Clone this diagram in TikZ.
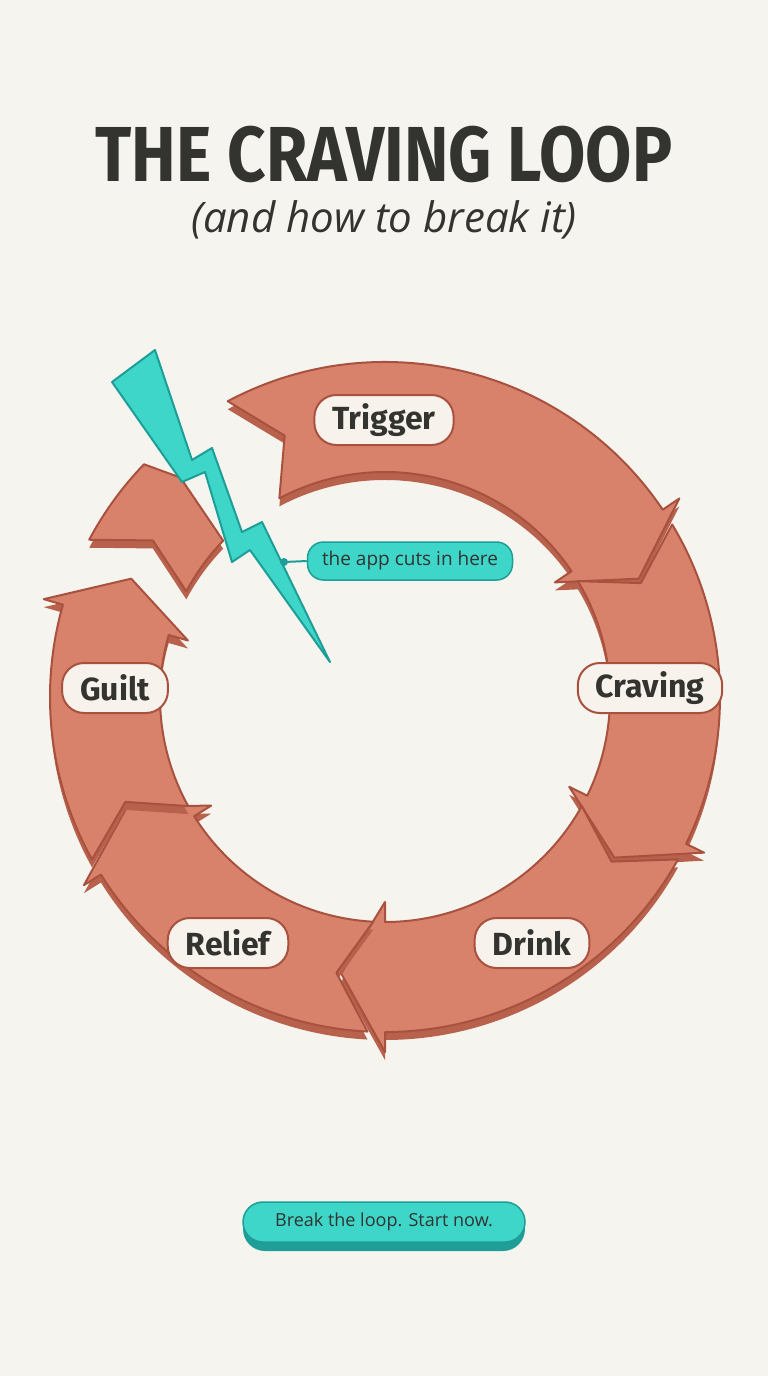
\documentclass[tikz,border=0pt]{standalone}
\usepackage{fontspec}
\setmainfont{Fira Sans}
\newfontfamily\lab{Fira Sans}
\newfontfamily\body{Open Sans}
\definecolor{bg}{HTML}{F6F4EF}
\definecolor{af}{HTML}{D9826B}
\definecolor{ad}{HTML}{A8513E}
\definecolor{ash}{HTML}{B8624D}
\definecolor{tl}{HTML}{3DD6C9}
\definecolor{td}{HTML}{1E9E96}
\definecolor{ink}{HTML}{333330}
\definecolor{pill}{HTML}{F7F2EC}
\newcommand\looparr[2]{%
  \path[fill=ash,shift={(0,8)}] (#1:335) arc[start angle=#1,end angle=#2,radius=335] -- (#2:355) -- (#2+9:280) -- (#2:205) -- (#2:225) arc[start angle=#2,end angle=#1,radius=225] -- (#1+7:280) -- cycle;
  \path[arr] (#1:335) arc[start angle=#1,end angle=#2,radius=335] -- (#2:355) -- (#2+9:280) -- (#2:205) -- (#2:225) arc[start angle=#2,end angle=#1,radius=225] -- (#1+7:280) -- cycle;}
\tikzset{arr/.style={fill=af,draw=ad,line width=2pt,line join=round},
 lbl/.style={fill=pill,draw=ad,line width=2pt,rounded corners=22pt,minimum height=50pt,inner xsep=18pt,font=\lab\bfseries\fontsize{32}{34}\selectfont,text=ink},
 tpill/.style={fill=tl,draw=td,line width=1.5pt,rounded corners=16pt,text=ink}}
\begin{document}
\begin{tikzpicture}[x=1pt,y=-1pt]
\fill[bg] (0,0) rectangle (768,1376);
\useasboundingbox (0,0) rectangle (768,1376);
\node[text=ink] (title) at (384,154) {\scalebox{0.86}[1]{\fontsize{78}{78}\selectfont\bfseries THE CRAVING LOOP}};
\node[text=ink] (sub) at (384,220) {\fontsize{42}{44}\selectfont\body\itshape (and how to break it)};
\begin{scope}[shift={(385,697)}]
\looparr{-118}{-34}
\looparr{-31}{26}
\looparr{29}{90}
\looparr{93}{148}
\looparr{151}{196}
\path[fill=ash,shift={(0,8)}] (208:335) arc[start angle=208,end angle=224,radius=335] -- (227:300) -- (224:225) arc[start angle=224,end angle=208,radius=225] -- (214:280) -- cycle;
\path[arr] (208:335) arc[start angle=208,end angle=224,radius=335] -- (227:300) -- (224:225) arc[start angle=224,end angle=208,radius=225] -- (214:280) -- cycle;
\end{scope}
\node[lbl] (trig) at (384,420) {Trigger};
\node[lbl] (crav) at (650,688) {Craving};
\node[lbl] (drink) at (532,943) {Drink};
\node[lbl] (rel) at (228,943) {Relief};
\node[lbl] (guilt) at (115,688) {Guilt};
\fill[tl,draw=td,line width=2pt,line join=round] (112,382) -- (155,350) -- (192,460) -- (212,448) -- (242,532) -- (262,522) -- (330,662) -- (250,550) -- (232,562) -- (205,472) -- (182,482) -- cycle;
\node[tpill,minimum width=205pt,minimum height=38pt,font=\body\fontsize{19}{20}\selectfont] (cut) at (410,561) {the app cuts in here};
\coordinate (dot) at (284,562);
\fill[td] (dot) circle (4pt);
\draw[td,line width=2pt] (dot) -- (cut.west);
\fill[td,rounded corners=22pt] (243,1207) rectangle (525,1251);
\node[tpill,rounded corners=20pt,minimum width=282pt,minimum height=40pt,font=\body\fontsize{18}{20}\selectfont] (btn) at (384,1222) {Break the loop. Start now.};
\end{tikzpicture}
\end{document}
